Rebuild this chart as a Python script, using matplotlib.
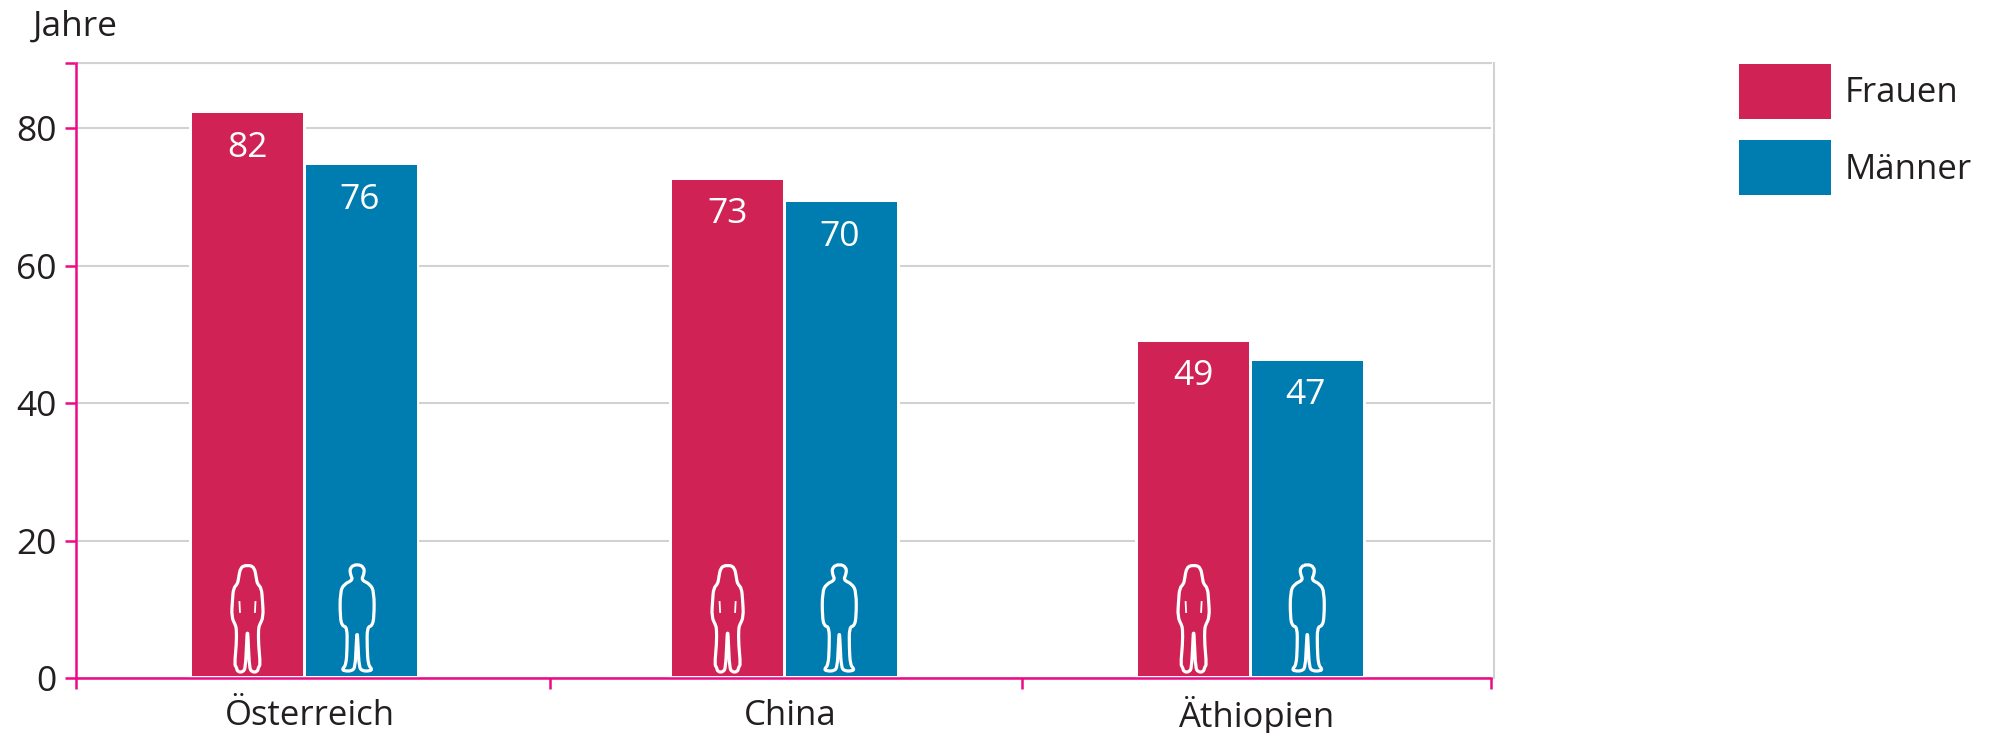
import matplotlib
matplotlib.use('Agg')
import matplotlib.pyplot as plt
from matplotlib.patches import PathPatch
from matplotlib.path import Path
from matplotlib.transforms import Affine2D

countries = ['Österreich', 'China', 'Äthiopien']
women_height = [82.2, 72.5, 48.9]
men_height = [74.6, 69.2, 46.2]
women_labels = ['82', '73', '49']
men_labels = ['76', '70', '47']
y_ticks = [0, 20, 40, 60, 80]

RED = '#D02255'
BLUE = '#007DB0'
PINK = '#EC0A86'
GREY = '#D2D2D2'
INK = '#231F20'

plt.rcParams['font.family'] = ['Open Sans', 'DejaVu Sans']
FS = 25.5
FS_TEXT = 25

W, H = 1996, 733
fig = plt.figure(figsize=(W / 100, H / 100), dpi=100)
ax = fig.add_axes([76 / W, 1 - 678 / H, (1491 - 76) / W, (678 - 63) / H])
ax.set_xlim(0, 3)
ax.set_ylim(0, 89.5)

# group centres sit a little off the category centres
centres = [0.484, 1.502, 2.49]
bar_w = 0.235
gap = 0.006
base = 0.3

# half outlines in pixels, x from the centre line, y up from the feet
woman_half = [(0, 107), (7, 105), (9, 93), (10, 88), (14, 84), (15, 72), (16, 55), (12, 47), (11, 43),
              (11, 28), (13, 7), (11, 5), (10, 0), (4, 0), (2, 5), (1, 25), (0, 45)]
man_half = [(0, 108), (7, 105), (7, 98), (4, 92), (13, 88), (17, 80), (17, 55), (15, 46), (10, 45),
            (10, 25), (11, 7), (15, 3), (13, 1), (5, 1), (2, 5), (1, 25), (0, 43)]
man_shift = [-4, -2, 0]


def smooth_outline(half):
    pts = half + [(-x, y) for x, y in reversed(half[1:-1])]
    n = len(pts)
    mid = lambda a, b: ((a[0] + b[0]) / 2, (a[1] + b[1]) / 2)
    verts = [mid(pts[-1], pts[0])]
    codes = [Path.MOVETO]
    for i in range(n):
        verts += [pts[i], mid(pts[i], pts[(i + 1) % n])]
        codes += [Path.CURVE3, Path.CURVE3]
    return Path(verts, codes)


def add_figure(xc, half, ticks=False, shift=0):
    # pixel offsets, anchored on the bar centre and the axis
    x0, y0 = ax.transData.transform((xc, 0))
    tr = Affine2D().translate(x0 + shift, y0 + 6)
    ax.add_patch(PathPatch(smooth_outline(half), transform=tr, fc='none', ec='white',
                           lw=2.3, zorder=4, joinstyle='round'))
    if ticks:
        for sx in (-1, 1):
            ax.plot([sx * 8, sx * 7.5], [70, 60], transform=tr, color='white', lw=1.3, zorder=4)


# gridlines first, white underlay cuts them off around the bars
ax.set_yticks(y_ticks + [89.5])
ax.set_yticklabels([str(v) for v in y_ticks] + [''])
ax.yaxis.grid(True, color=GREY, lw=1.5, zorder=0)
ax.set_axisbelow(True)

ax.set_xticks([0, 1.005, 2.006, 3])
ax.set_xticklabels([])
for x, name in zip(centres, countries):
    ax.text(x + 0.012, -0.061, name, transform=ax.get_xaxis_transform(), ha='center', va='center',
            fontsize=FS_TEXT, color=INK)

ax.tick_params(axis='both', color=PINK, width=1.8, length=8, pad=6, labelsize=FS, labelcolor=INK)

for i, xc in enumerate(centres):
    xw = xc - bar_w / 2 - gap / 2
    xm = xc + bar_w / 2 + gap / 2
    ax.bar([xw, xm], [women_height[i] + 0.4, men_height[i] + 0.4], width=bar_w + 0.012,
           color='white', zorder=1.5)
    ax.bar(xw, women_height[i] - base, width=bar_w, bottom=base, color=RED, zorder=2,
           label='Frauen' if i == 0 else None)
    ax.bar(xm, men_height[i] - base, width=bar_w, bottom=base, color=BLUE, zorder=2,
           label='Männer' if i == 0 else None)
    ax.text(xw, women_height[i] - 5.0, women_labels[i], ha='center', va='center',
            color='white', fontsize=FS, zorder=3)
    ax.text(xm - 0.003, men_height[i] - 5.0, men_labels[i], ha='center', va='center',
            color='white', fontsize=FS, zorder=3)
    add_figure(xw, woman_half, ticks=True)
    add_figure(xm, man_half, shift=man_shift[i])

for side in ('left', 'bottom'):
    ax.spines[side].set_color(PINK)
    ax.spines[side].set_linewidth(1.8)
    ax.spines[side].set_zorder(5)
ax.spines['right'].set_color(GREY)
ax.spines['right'].set_linewidth(1.5)
ax.spines['right'].set_position(('outward', 2))
ax.spines['top'].set_color(GREY)
ax.spines['top'].set_linewidth(1.5)

fig.text(33 / W, 1 - 27 / H, 'Jahre', fontsize=FS, color=INK, ha='left', va='center')

ax.legend(loc='upper left', bbox_to_anchor=(1739 / W, 1 - 64 / H), bbox_transform=fig.transFigure,
          frameon=False, fontsize=FS_TEXT, borderpad=0, borderaxespad=0, handlelength=2.65,
          handleheight=2.05, labelspacing=0.62, handletextpad=0.4, labelcolor=INK)

fig.savefig('out.png', dpi=100)
